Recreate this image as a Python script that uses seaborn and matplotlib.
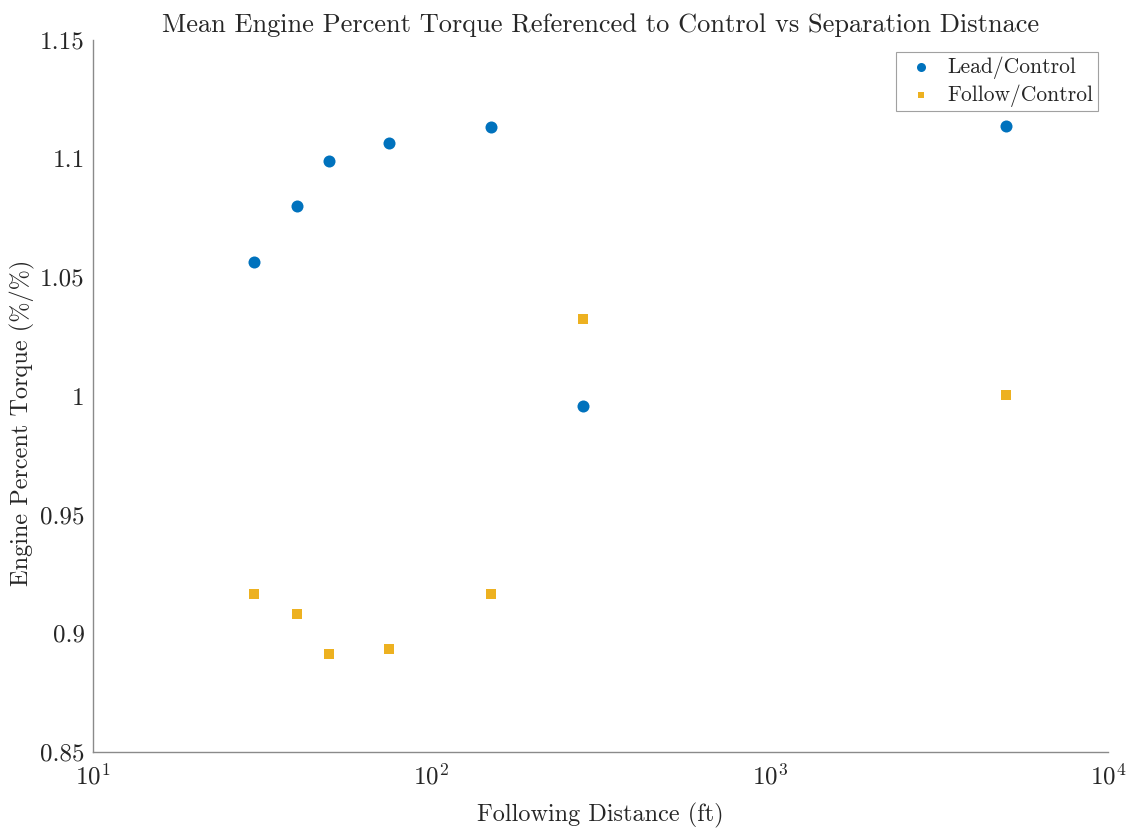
import numpy as np
import pandas as pd
import matplotlib
matplotlib.use("Agg")
import matplotlib.pyplot as plt
import seaborn as sns
from matplotlib.ticker import LogLocator, NullFormatter

distance_ft = [30, 40, 50, 75, 150, 280, 5000]
lead_ratio = [1.0563, 1.0800, 1.0990, 1.1068, 1.1133, 0.9956, 1.1137]
follow_ratio = [0.9165, 0.9080, 0.8915, 0.8935, 0.9165, 1.0323, 1.0006]
series_names = ["Lead/Control", "Follow/Control"]
y_ticks = [0.85, 0.9, 0.95, 1.0, 1.05, 1.1, 1.15]
y_tick_labels = ["0.85", "0.9", "0.95", "1", "1.05", "1.1", "1.15"]

lead_df = pd.DataFrame({"distance": distance_ft, "ratio": lead_ratio})
follow_df = pd.DataFrame({"distance": distance_ft, "ratio": follow_ratio})

sns.set_style("white")
plt.rcParams["font.family"] = ["cmr10", "DejaVu Serif"]
plt.rcParams["mathtext.fontset"] = "cm"
plt.rcParams["axes.formatter.use_mathtext"] = True

fig = plt.figure(figsize=(11.31, 8.32), dpi=100)
ax = fig.add_axes([93/1131, 80/832, (1108-93)/1131, (752-40)/832])

sns.scatterplot(data=lead_df, x="distance", y="ratio", color="#0072BD", marker="o",
                s=75, linewidth=0, ax=ax, label=series_names[0])
sns.scatterplot(data=follow_df, x="distance", y="ratio", color="#EDB120", marker="s",
                s=45, linewidth=0, ax=ax, label=series_names[1])

ax.set_xscale("log")
ax.set_xlim(10, 1e4)
ax.set_ylim(0.85, 1.15)
ax.set_yticks(y_ticks)
ax.set_yticklabels(y_tick_labels)
ax.xaxis.set_major_locator(LogLocator(base=10))
ax.xaxis.set_minor_locator(LogLocator(base=10, subs=np.arange(2, 10)))
ax.xaxis.set_minor_formatter(NullFormatter())

for s in ["top", "right"]:
    ax.spines[s].set_visible(False)
for s in ["left", "bottom"]:
    ax.spines[s].set_color("#8a8a8a")
    ax.spines[s].set_linewidth(1.0)

ax.tick_params(axis="both", which="major", direction="in", length=6, width=0.8,
               colors="#8a8a8a", labelcolor="#262626", labelsize=18)
ax.tick_params(axis="x", which="minor", direction="in", length=3.5, width=0.7, colors="#8a8a8a")
ax.tick_params(axis="x", which="major", pad=8)
ax.tick_params(axis="y", which="major", pad=6)

ax.set_xlabel("Following Distance (ft)", fontsize=17.5, color="#262626", labelpad=10)
ax.set_ylabel("Engine Percent Torque (%/%)", fontsize=17.5, color="#262626")
ax.yaxis.set_label_coords(-0.057, 0.462)
ax.set_title("Mean Engine Percent Torque Referenced to Control vs Separation Distnace",
             fontsize=19, color="#262626", pad=6)

leg = ax.legend(loc="upper right", bbox_to_anchor=(0.990, 0.983), borderaxespad=0.0,
                fontsize=15.5, frameon=True, fancybox=False, edgecolor="#8a8a8a",
                handletextpad=0.3, borderpad=0.2, labelspacing=0.25, markerscale=0.75,
                handlelength=1.9)
leg.get_frame().set_linewidth(0.8)
for t in leg.get_texts():
    t.set_color("#262626")

fig.savefig("out.png", dpi=100)
